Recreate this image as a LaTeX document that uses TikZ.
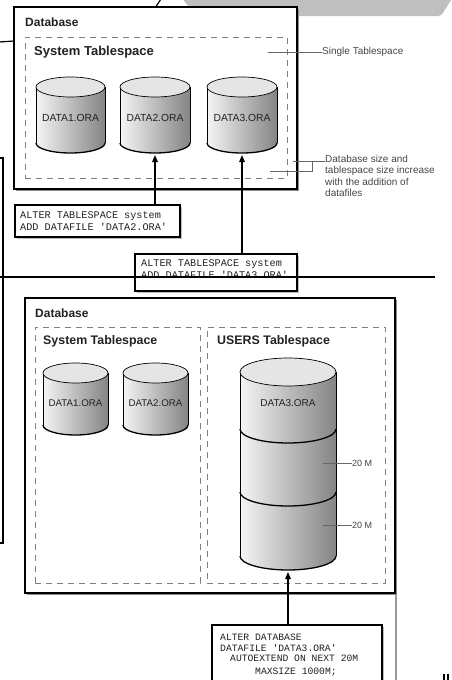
\documentclass[tikz,border=0pt]{standalone}
\usepackage{fontspec}
\setmainfont{Liberation Sans}
\setmonofont{Liberation Mono}
\usetikzlibrary{arrows.meta,shadows}

\definecolor{ink}{HTML}{222222}
\definecolor{note}{HTML}{444444}

\tikzset{
  dbbox/.style={draw=black, line width=1.1pt, fill=white, inner sep=0pt, outer sep=0pt,
    drop shadow={shadow xshift=1.8pt, shadow yshift=-1.8pt, fill=black!45, opacity=1}},
  tsbox/.style={draw=black!50, dashed, dash pattern=on 6pt off 5pt, line width=0.8pt,
    inner sep=0pt, outer sep=0pt},
  codebox/.style={draw=black, line width=1.4pt, fill=white, inner sep=0pt, outer sep=0pt,
    drop shadow={shadow xshift=1.5pt, shadow yshift=-1.5pt, fill=black!25, opacity=1}},
  codetxt/.style={font=\fontsize{10.2}{12}\ttfamily, text=ink, inner sep=0pt, anchor=base west},
  codetxtb/.style={font=\fontsize{9.7}{11}\ttfamily, text=ink, inner sep=0pt, anchor=base west},
  title/.style={font=\fontsize{12}{14}\selectfont\bfseries, text=ink, inner sep=0pt, anchor=west},
  cyllbl/.style={font=\fontsize{10.3}{12}\selectfont, text=ink, inner sep=0pt},
  note/.style={font=\fontsize{10}{11.5}\selectfont, text=note, inner sep=0pt, anchor=west, align=left},
  leader/.style={draw=black!60, line width=0.6pt},
  arr/.style={draw=black, line width=1.4pt, -{Triangle[length=7pt,width=5.5pt]}},
  scrap/.style={draw=black, line width=1.5pt},
}

% cylinder: name, centre x, top y, bottom y, x radius, y radius
\newcommand\dbcyl[6]{%
  \shade[left color=black!4, right color=black!48]
    (#2-#5,#3) -- (#2-#5,#4) arc[start angle=180,end angle=360,x radius=#5pt,y radius=#6pt]
    -- (#2+#5,#3) -- cycle;
  \draw[line width=0.7pt] (#2-#5,#3) -- (#2-#5,#4) (#2+#5,#3) -- (#2+#5,#4);
  \draw[line width=1.3pt] (#2-#5,#4) arc[start angle=180,end angle=360,x radius=#5pt,y radius=#6pt];
  \draw[line width=0.7pt, fill=black!10] (#2,#3) ellipse[x radius=#5pt, y radius=#6pt];
  \coordinate (#1) at (#2,#4+#6+2);
}

\begin{document}
\begin{tikzpicture}[x=1pt,y=-1pt]
\useasboundingbox (0,0) rectangle (451,680);

% stray marks along the top and left margins
\fill[black!25, rounded corners=3pt] (181,-3) -- (196,16) -- (441,16) -- (453,-3) -- cycle;
\draw[line width=1.2pt] (155,8) -- (161,-1);
\draw[line width=1.2pt] (-1,42) -- (14,41);
\draw[line width=1.3pt] (-1,158) -- (3,158) -- (3,543) -- (-1,543);

% ---------- upper figure: single tablespace ----------
\node[dbbox, minimum width=283pt, minimum height=182pt, anchor=north west] (db1) at (14,7) {};
\node[title] (db1t) at (25,22) {Database};
\node[tsbox, minimum width=262pt, minimum height=141pt, anchor=north west] (ts1) at (25,37) {};
\node[title, font=\fontsize{13}{15}\selectfont\bfseries] (ts1t) at (34,52) {System Tablespace};

\dbcyl{c1b}{70.5}{87}{143}{34.5}{10}
\dbcyl{c2b}{155}{87}{143}{35}{10}
\dbcyl{c3b}{242}{87}{143}{35}{10}
\node[cyllbl] (c1t) at (70.5,118) {DATA1.ORA};
\node[cyllbl] (c2t) at (155,118) {DATA2.ORA};
\node[cyllbl] (c3t) at (242,118) {DATA3.ORA};

% notes on the right
\node[note] (n1) at (322,52) {Single Tablespace};
\coordinate (n1a) at (268,52);
\draw[leader] (n1.west) -- (n1a);
\node[note, anchor=north west] (n2) at (325,155) {Database size and\\tablespace size increase\\with the addition of\\datafiles};
\coordinate (n2a) at (293,161);
\coordinate (n2b) at (312,161);
\coordinate (n2c) at (312,171);
\coordinate (n2d) at (270,171);
\draw[leader] (n2.west |- n2a) -- (n2a);
\draw[leader] (n2b) -- (n2c) -- (n2d);

% statements that add the datafiles
\node[codebox, minimum width=165pt, minimum height=32pt, anchor=north west] (alt1) at (15,205) {};
\node[codetxt] (alt1a) at (20,218.5) {ALTER TABLESPACE system};
\node[codetxt] (alt1b) at (20,230.5) {ADD DATAFILE 'DATA2.ORA'};
\draw[arr] (alt1.north -| c2b) -- (c2b);

\node[codebox, minimum width=162pt, minimum height=37pt, anchor=north west] (alt2) at (135,254) {};
\node[codetxt] (alt2a) at (141,266.5) {ALTER TABLESPACE system};
\node[codetxt] (alt2b) at (141,278.5) {ADD DATAFILE 'DATA3.ORA'};
\draw[arr] (alt2.north -| c3b) -- (c3b);

% rule across the page
\draw[line width=1.5pt] (-1,277) -- (435,277);

% ---------- lower figure: system and users tablespaces ----------
\draw[black!40, line width=1.4pt] (396,300) -- (396,681);
\node[dbbox, minimum width=370pt, minimum height=295pt, anchor=north west] (db2) at (25,298) {};
\node[title] (db2t) at (35,313) {Database};
\node[tsbox, minimum width=165pt, minimum height=256pt, anchor=north west] (ts2) at (35,327) {};
\node[tsbox, minimum width=178pt, minimum height=256pt, anchor=north west] (ts3) at (207,327) {};
\node[title, font=\fontsize{12.4}{14}\selectfont\bfseries] (ts2t) at (43,341) {System Tablespace};
\node[title, font=\fontsize{12.4}{14}\selectfont\bfseries] (ts3t) at (217,341) {USERS Tablespace};

\dbcyl{d1b}{75.5}{373}{425}{32.5}{10}
\dbcyl{d2b}{155.5}{373}{425}{32.5}{10}
\node[cyllbl, font=\fontsize{9.7}{11}\selectfont] (d1t) at (75.5,403) {DATA1.ORA};
\node[cyllbl, font=\fontsize{9.7}{11}\selectfont] (d2t) at (155.5,403) {DATA2.ORA};

% the growing datafile, in three extents
\dbcyl{d3b}{288}{372}{556}{48}{14}
\draw[line width=1.3pt] (240,429) arc[start angle=180,end angle=360,x radius=48pt,y radius=14pt];
\draw[line width=1.3pt] (240,492) arc[start angle=180,end angle=360,x radius=48pt,y radius=14pt];
\node[cyllbl, font=\fontsize{10}{12}\selectfont] (d3t) at (288,403) {DATA3.ORA};

\node[note, font=\fontsize{9}{11}\selectfont] (m1) at (352,463) {20 M};
\coordinate (m1a) at (323,463);
\draw[leader] (m1.west) -- (m1a);
\node[note, font=\fontsize{9}{11}\selectfont] (m2) at (352,525) {20 M};
\coordinate (m2a) at (323,525);
\draw[leader] (m2.west) -- (m2a);

\node[codebox, minimum width=170pt, minimum height=70pt, anchor=north west] (alt3) at (212,625) {};
\node[codetxtb] (alt3a) at (220,640.5) {ALTER DATABASE};
\node[codetxtb] (alt3b) at (220,651) {DATAFILE 'DATA3.ORA'};
\node[codetxtb] (alt3c) at (230,661.5) {AUTOEXTEND ON NEXT 20M};
\node[codetxtb] (alt3d) at (255,674.5) {MAXSIZE 1000M;};
\draw[arr] (alt3.north -| d3b) -- (d3b);

% page mark in the corner
\draw[line width=1.2pt] (444,674) -- (444,681) (448,674) -- (448,681);
\end{tikzpicture}
\end{document}
